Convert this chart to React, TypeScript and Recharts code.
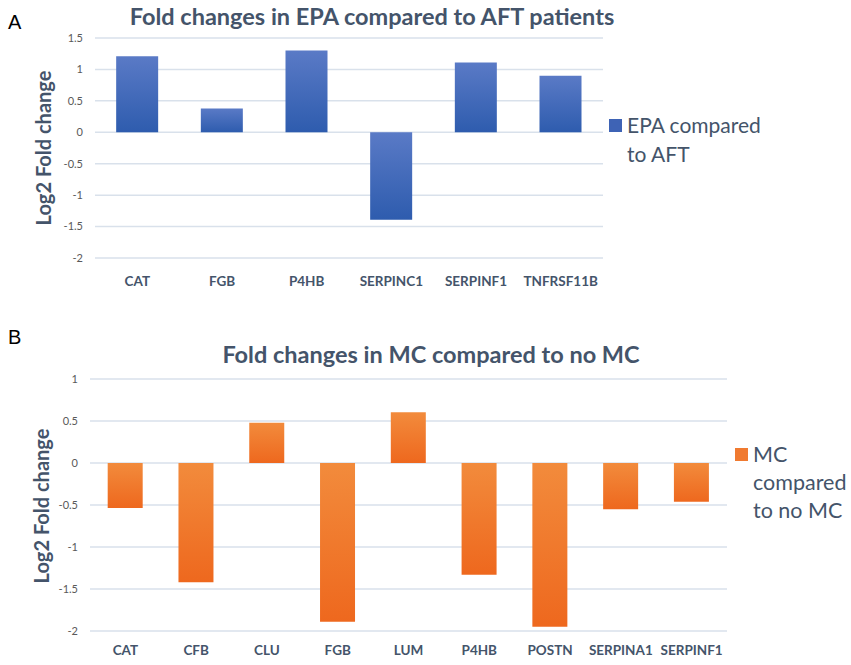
import React from 'react';
import { BarChart, Bar, XAxis, YAxis, CartesianGrid, Legend } from 'recharts';

const epaGenes = ['CAT', 'FGB', 'P4HB', 'SERPINC1', 'SERPINF1', 'TNFRSF11B'];
const epaValues = [1.21, 0.38, 1.3, -1.39, 1.11, 0.9];
const epaTicks = [-2, -1.5, -1, -0.5, 0, 0.5, 1, 1.5];

const mcGenes = ['CAT', 'CFB', 'CLU', 'FGB', 'LUM', 'P4HB', 'POSTN', 'SERPINA1', 'SERPINF1'];
const mcValues = [-0.535, -1.42, 0.48, -1.89, 0.605, -1.33, -1.95, -0.55, -0.46];
const mcTicks = [-2, -1.5, -1, -0.5, 0, 0.5, 1];

const epaData = epaGenes.map((gene, i) => ({ gene, value: epaValues[i] }));
const mcData = mcGenes.map((gene, i) => ({ gene, value: mcValues[i] }));

const FONT = 'Lato, "Liberation Sans", sans-serif';
const SLATE = '#44546A';
const GRID = '#D9E1EB';

const renderLegend = (color: string, lines: string[], fontSize: number, lineHeight: number, squareTop: number) => () => (
  <div style={{ display: 'flex', alignItems: 'flex-start' }}>
    <div style={{ width: 13, height: 13, background: color, marginTop: squareTop, marginRight: 5 }} />
    <div style={{ fontFamily: FONT, fontSize, lineHeight: `${lineHeight}px`, color: SLATE, whiteSpace: 'nowrap' }}>
      {lines.map((l) => (
        <div key={l}>{l}</div>
      ))}
    </div>
  </div>
);

const yTick = { fontFamily: FONT, fontSize: 11, fill: '#595959' };
const xTick = { fontFamily: FONT, fontSize: 13.5, fontWeight: 700, fill: SLATE };

export default function App() {
  return (
    <div style={{ position: 'absolute', left: 0, top: 0, width: 851, height: 665, background: '#fff' }}>
      <div style={{ position: 'absolute', left: 0, top: 0 }}>
        <BarChart width={851} height={300} data={epaData} margin={{ top: 38, right: 248, bottom: 12, left: 0 }} barCategoryGap="25%">
          <defs>
            <linearGradient id="gradBlue" x1="0" y1="0" x2="0" y2="1">
              <stop offset="0%" stopColor="#5A7AC6" />
              <stop offset="100%" stopColor="#2E5CAE" />
            </linearGradient>
          </defs>
          <CartesianGrid vertical={false} stroke={GRID} strokeWidth={1.5} />
          <XAxis dataKey="gene" axisLine={false} tickLine={false} tickSize={0} tickMargin={18} height={30} interval={0} tick={xTick} />
          <YAxis type="number" domain={[-2, 1.5]} ticks={epaTicks} width={95} axisLine={false} tickLine={false} tickSize={0} tickMargin={12} tick={yTick} />
          <Legend layout="horizontal" verticalAlign="middle" content={renderLegend('#3E63B5', ['EPA compared', 'to AFT'], 21, 29, 9)} wrapperStyle={{ left: 609, top: 110, width: 220, height: 60 }} />
          <Bar dataKey="value" name="EPA compared to AFT" fill="url(#gradBlue)" isAnimationActive={false} />
        </BarChart>
      </div>
      <div style={{ position: 'absolute', left: 0, top: 330 }}>
        <BarChart width={851} height={335} data={mcData} margin={{ top: 49, right: 124, bottom: 6, left: 0 }} barCategoryGap="25%">
          <defs>
            <linearGradient id="gradOrange" x1="0" y1="0" x2="0" y2="1">
              <stop offset="0%" stopColor="#F28B3C" />
              <stop offset="100%" stopColor="#EE681E" />
            </linearGradient>
          </defs>
          <CartesianGrid vertical={false} stroke={GRID} strokeWidth={1.5} />
          <XAxis dataKey="gene" axisLine={false} tickLine={false} tickSize={0} tickMargin={14} height={28} interval={0} tick={xTick} />
          <YAxis type="number" domain={[-2, 1]} ticks={mcTicks} width={90} axisLine={false} tickLine={false} tickSize={0} tickMargin={12} tick={yTick} />
          <Legend layout="horizontal" verticalAlign="middle" content={renderLegend('#F07A30', ['MC', 'compared', 'to no MC'], 21.5, 28, 8)} wrapperStyle={{ left: 735, top: 110, width: 116, height: 90 }} />
          <Bar dataKey="value" name="MC compared to no MC" fill="url(#gradOrange)" isAnimationActive={false} />
        </BarChart>
      </div>
      <svg width={851} height={665} style={{ position: 'absolute', left: 0, top: 0, pointerEvents: 'none' }}>
        <text x={8} y={29} fontFamily='"Liberation Sans", sans-serif' fontSize={20} fill="#000">A</text>
        <text x={8} y={344} fontFamily='"Liberation Sans", sans-serif' fontSize={20} fill="#000">B</text>
        <text x={372} y={25} textAnchor="middle" fontFamily={FONT} fontWeight={700} fontSize={23.5} fill={SLATE}>
          Fold changes in EPA compared to AFT patients
        </text>
        <text x={431} y={363} textAnchor="middle" fontFamily={FONT} fontWeight={700} fontSize={23.5} fill={SLATE}>
          Fold changes in MC compared to no MC
        </text>
        <text transform="translate(44,148) rotate(-90)" textAnchor="middle" dy="0.35em" fontFamily={FONT} fontWeight={700} fontSize={20} fill={SLATE}>
          Log2 Fold change
        </text>
        <text transform="translate(42,506) rotate(-90)" textAnchor="middle" dy="0.35em" fontFamily={FONT} fontWeight={700} fontSize={20} fill={SLATE}>
          Log2 Fold change
        </text>
      </svg>
    </div>
  );
}
